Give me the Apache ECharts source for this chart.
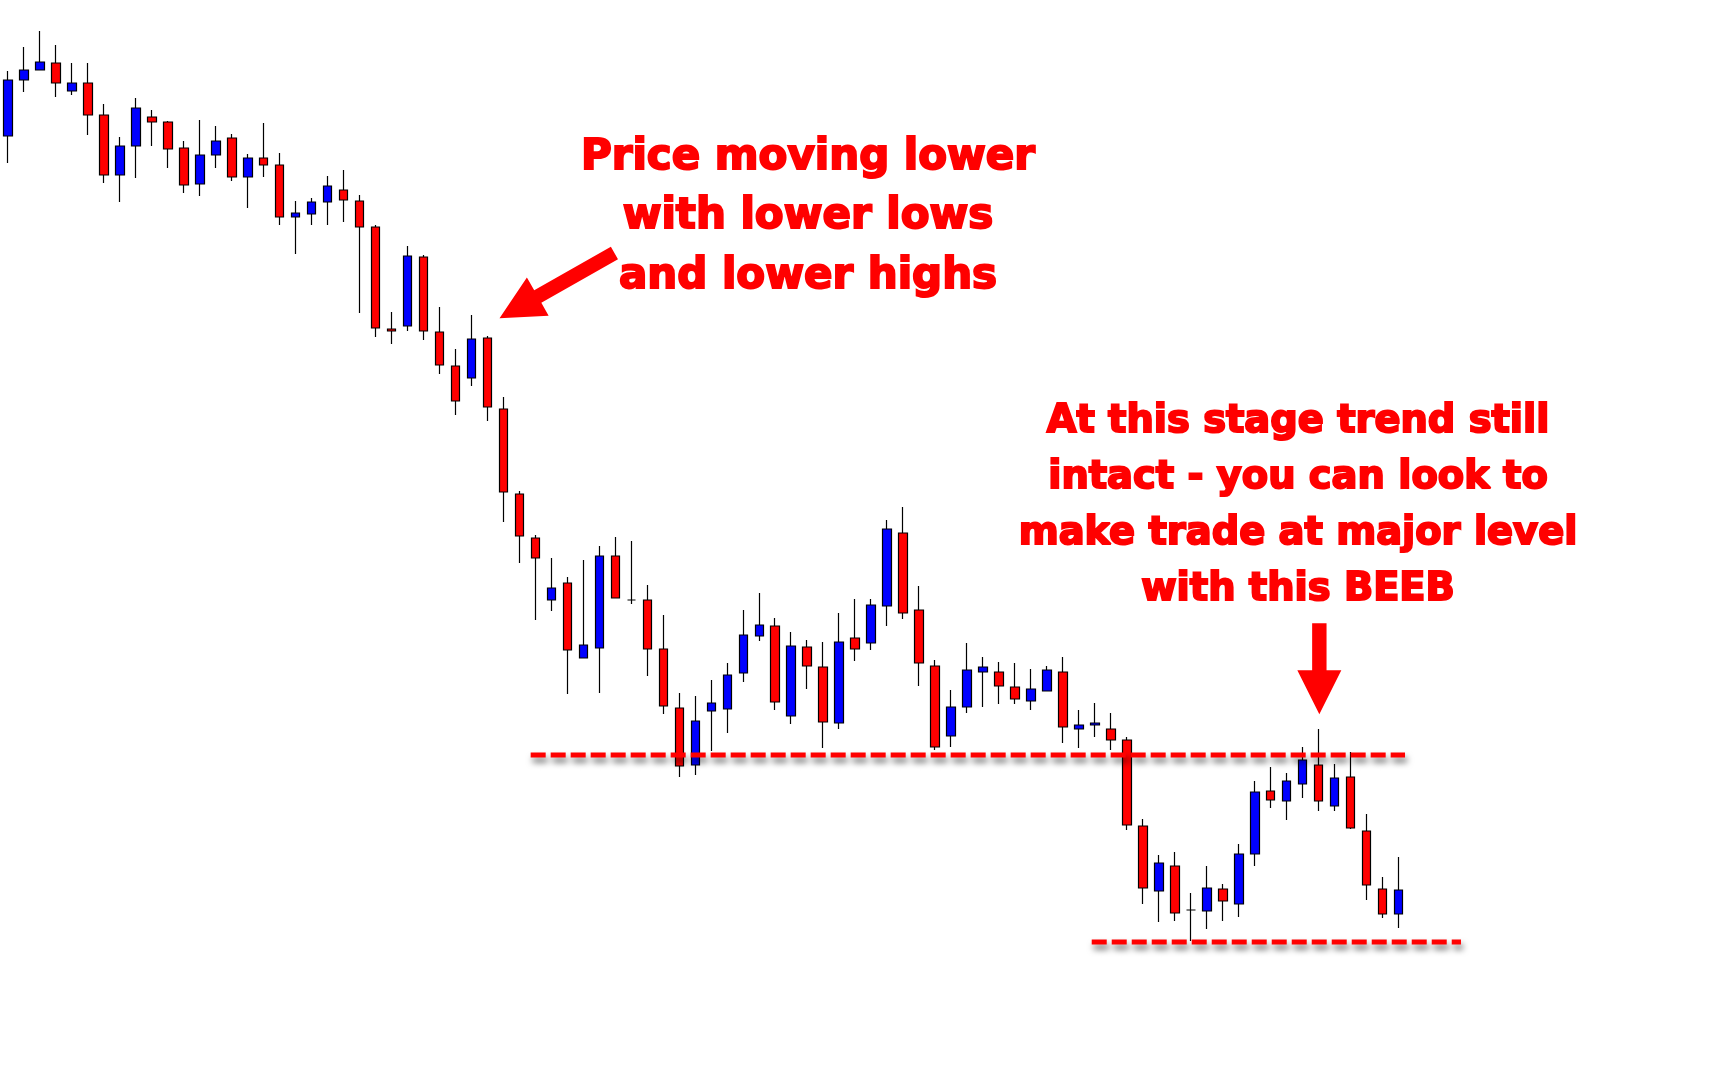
<!DOCTYPE html>
<html>
<head>
<meta charset="utf-8">
<title>BEEB trade setup</title>
<script src="https://cdn.jsdelivr.net/npm/echarts@6/dist/echarts.min.js"></script>
<style>
    html, body {margin: 0; padding: 0; background: #fff;}
    #chart {width: 1736px; height: 1071px;}
</style>
</head>
<body>
<div id="chart"></div>
<script>
// candle prices (no axis shown, so a forex-like scale is used)
var opens = [1.3464, 1.3520, 1.3530, 1.3537, 1.3509, 1.3517, 1.3485, 1.3425, 1.3454, 1.3483,
    1.3478, 1.3452, 1.3416, 1.3445, 1.3462, 1.3423, 1.3442, 1.3435, 1.3383, 1.3386,
    1.3398, 1.3410, 1.3399, 1.3373, 1.3271, 1.3274, 1.3343, 1.3268, 1.3234, 1.3222,
    1.3262, 1.3191, 1.3106, 1.3062, 1.3000, 1.3017, 1.2942, 1.2952, 1.3044, 1.3000,
    1.3000, 1.2951, 1.2892, 1.2835, 1.2889, 1.2891, 1.2927, 1.2964, 1.2974, 1.2884,
    1.2953, 1.2933, 1.2877, 1.2962, 1.2957, 1.2994, 1.3067, 1.2990, 1.2934, 1.2864,
    1.2893, 1.2928, 1.2928, 1.2913, 1.2899, 1.2909, 1.2928, 1.2871, 1.2875, 1.2871,
    1.2860, 1.2774, 1.2709, 1.2734, 1.2690, 1.2689, 1.2711, 1.2696, 1.2746, 1.2809,
    1.2799, 1.2816, 1.2835, 1.2794, 1.2823, 1.2769, 1.2711, 1.2686];
var closes = [1.3520, 1.3530, 1.3538, 1.3517, 1.3517, 1.3485, 1.3425, 1.3454, 1.3492, 1.3478,
    1.3451, 1.3415, 1.3445, 1.3459, 1.3423, 1.3442, 1.3435, 1.3383, 1.3387, 1.3398,
    1.3414, 1.3400, 1.3373, 1.3272, 1.3269, 1.3344, 1.3269, 1.3235, 1.3199, 1.3261,
    1.3193, 1.3108, 1.3064, 1.3042, 1.3012, 1.2950, 1.2955, 1.3044, 1.3002, 1.3000,
    1.2951, 1.2894, 1.2834, 1.2879, 1.2897, 1.2925, 1.2965, 1.2975, 1.2898, 1.2954,
    1.2934, 1.2878, 1.2958, 1.2951, 1.2995, 1.3071, 1.2987, 1.2937, 1.2853, 1.2893,
    1.2930, 1.2933, 1.2914, 1.2901, 1.2911, 1.2930, 1.2873, 1.2875, 1.2877, 1.2860,
    1.2775, 1.2712, 1.2737, 1.2687, 1.2690, 1.2712, 1.2699, 1.2746, 1.2808, 1.2800,
    1.2819, 1.2840, 1.2799, 1.2822, 1.2772, 1.2715, 1.2686, 1.2710];
var lows = [1.3437, 1.3508, 1.3530, 1.3503, 1.3505, 1.3465, 1.3417, 1.3398, 1.3422, 1.3454,
    1.3432, 1.3407, 1.3404, 1.3432, 1.3419, 1.3392, 1.3423, 1.3375, 1.3346, 1.3375,
    1.3375, 1.3378, 1.3287, 1.3263, 1.3256, 1.3269, 1.3260, 1.3226, 1.3185, 1.3214,
    1.3179, 1.3078, 1.3037, 1.2980, 1.2989, 1.2906, 1.2942, 1.2907, 1.3002, 1.2996,
    1.2924, 1.2886, 1.2823, 1.2825, 1.2849, 1.2867, 1.2918, 1.2959, 1.2890, 1.2876,
    1.2911, 1.2852, 1.2871, 1.2939, 1.2950, 1.2974, 1.2981, 1.2914, 1.2850, 1.2853,
    1.2887, 1.2893, 1.2896, 1.2896, 1.2890, 1.2909, 1.2857, 1.2852, 1.2863, 1.2850,
    1.2770, 1.2696, 1.2678, 1.2679, 1.2659, 1.2671, 1.2679, 1.2683, 1.2734, 1.2792,
    1.2780, 1.2802, 1.2789, 1.2789, 1.2771, 1.2700, 1.2682, 1.2672];
var highs = [1.3529, 1.3553, 1.3569, 1.3555, 1.3537, 1.3537, 1.3496, 1.3463, 1.3502, 1.3490,
    1.3479, 1.3459, 1.3480, 1.3474, 1.3466, 1.3446, 1.3477, 1.3447, 1.3399, 1.3402,
    1.3424, 1.3430, 1.3405, 1.3375, 1.3288, 1.3354, 1.3345, 1.3293, 1.3251, 1.3285,
    1.3264, 1.3203, 1.3109, 1.3065, 1.3042, 1.3023, 1.3040, 1.3054, 1.3063, 1.3059,
    1.3015, 1.2985, 1.2907, 1.2904, 1.2920, 1.2937, 1.2990, 1.3007, 1.2982, 1.2968,
    1.2960, 1.2958, 1.2987, 1.3001, 1.3001, 1.3080, 1.3093, 1.3014, 1.2940, 1.2910,
    1.2957, 1.2943, 1.2938, 1.2937, 1.2931, 1.2934, 1.2943, 1.2890, 1.2897, 1.2887,
    1.2863, 1.2781, 1.2745, 1.2748, 1.2707, 1.2734, 1.2716, 1.2756, 1.2819, 1.2833,
    1.2827, 1.2853, 1.2871, 1.2836, 1.2848, 1.2786, 1.2723, 1.2743];

// horizontal levels, in (bar position, price)
var resistanceLine = [[32.7, 1.2845], [87.4, 1.2845]];
var supportLine = [[67.8, 1.2658], [90.9, 1.2658]];

// arrows: [tail bar, tail price, tip bar, tip price]
var arrows = [[37.94, 1.3347, 30.75, 1.32817],
    [82.04, 1.29767, 82.04, 1.28857]];

var textLeft = ['Price moving lower', 'with lower lows', 'and lower highs'];
var textRight = ['At this stage trend still', 'intact - you can look to',
    'make trade at major level', 'with this BEEB'];

var barSlots = 108;
var categories = [];
for (var i = 0; i < barSlots; i++) {
    categories.push(String(i + 1));
}
var candles = [];
for (var i = 0; i < opens.length; i++) {
    candles.push([opens[i], closes[i], lows[i], highs[i]]);
}

function renderArrow(params, api) {
    var t = api.coord([api.value(0), api.value(1)]);
    var p = api.coord([api.value(2), api.value(3)]);
    var dx = p[0] - t[0], dy = p[1] - t[1];
    var len = Math.sqrt(dx * dx + dy * dy);
    var ux = dx / len, uy = dy / len;
    var nx = -uy, ny = ux;
    var headL = 44, headW = 22, shaftW = 7.2;
    var bx = p[0] - ux * headL, by = p[1] - uy * headL;
    return {
        type: 'polygon',
        shape: {
            points: [
                [t[0] + nx * shaftW, t[1] + ny * shaftW],
                [bx + nx * shaftW, by + ny * shaftW],
                [bx + nx * headW, by + ny * headW],
                [p[0], p[1]],
                [bx - nx * headW, by - ny * headW],
                [bx - nx * shaftW, by - ny * shaftW],
                [t[0] - nx * shaftW, t[1] - ny * shaftW]
            ]
        },
        style: {fill: '#ff0000'}
    };
}

var levelStyle = {
    color: '#ff0000',
    width: 5,
    type: [15, 5],
    cap: 'butt',
    shadowColor: 'rgba(0, 0, 0, 0.55)',
    shadowBlur: 6,
    shadowOffsetX: 2,
    shadowOffsetY: 5
};

var chart = echarts.init(document.getElementById('chart'));
var option = {
    animation: false,
    backgroundColor: '#ffffff',
    grid: {left: -1.7, top: 0, width: 1728, height: 1071},
    xAxis: [{
        type: 'category',
        data: categories,
        boundaryGap: true,
        show: false
    }, {
        type: 'value',
        min: -0.5,
        max: barSlots - 0.5,
        show: false
    }],
    yAxis: {
        type: 'value',
        min: 1.2529,
        max: 1.3600,
        show: false,
        splitLine: {show: false}
    },
    graphic: [{
        type: 'text',
        x: 808,
        y: 217.5,
        z: 100,
        style: {
            text: textLeft.join('\n'),
            font: 'bold 42px "DejaVu Sans"',
            fill: '#ff0000',
            stroke: '#ff0000',
            lineWidth: 2,
            align: 'center',
            verticalAlign: 'middle',
            lineHeight: 59.7
        }
    }, {
        type: 'text',
        x: 1298,
        y: 506,
        z: 100,
        style: {
            text: textRight.join('\n'),
            font: 'bold 38.4px "DejaVu Sans"',
            fill: '#ff0000',
            stroke: '#ff0000',
            lineWidth: 2,
            align: 'center',
            verticalAlign: 'middle',
            lineHeight: 56
        }
    }],
    series: [{
        name: 'price',
        type: 'candlestick',
        data: candles,
        barWidth: 9,
        silent: true,
        itemStyle: {
            color: '#0000ff',
            color0: '#ff0000',
            borderColor: '#000000',
            borderColor0: '#000000',
            borderColorDoji: '#000000',
            borderWidth: 1.2
        }
    }, {
        name: 'resistance',
        type: 'line',
        xAxisIndex: 1,
        data: resistanceLine,
        symbol: 'none',
        silent: true,
        z: 5,
        lineStyle: levelStyle
    }, {
        name: 'support',
        type: 'line',
        xAxisIndex: 1,
        data: supportLine,
        symbol: 'none',
        silent: true,
        z: 5,
        lineStyle: levelStyle
    }, {
        name: 'arrows',
        type: 'custom',
        xAxisIndex: 1,
        data: arrows,
        encode: {x: [0, 2], y: [1, 3]},
        renderItem: renderArrow,
        silent: true,
        z: 6
    }]
};
chart.setOption(option);
</script>
</body>
</html>
